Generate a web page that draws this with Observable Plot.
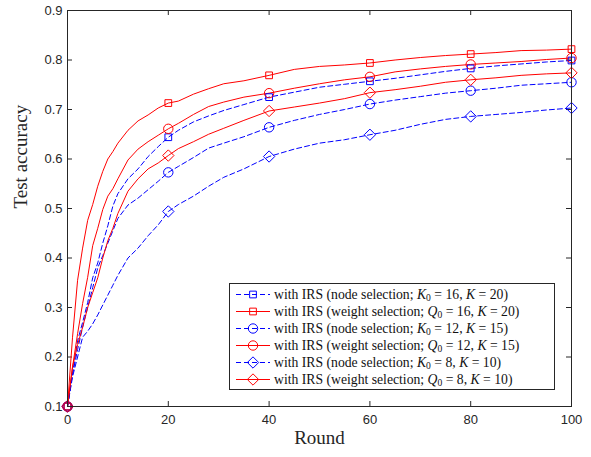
<!DOCTYPE html>
<html>
<head>
<meta charset="utf-8">
<script src="https://cdn.jsdelivr.net/npm/d3@7"></script>
<script src="https://cdn.jsdelivr.net/npm/@observablehq/plot@0.6"></script>
<style>
  html, body { margin: 0; padding: 0; background: #fff; }
  #wrap { position: relative; width: 591px; height: 457px; }
  #legend {
    position: absolute; left: 229px; top: 283px; width: 326px; height: 107px;
    border: 1px solid #262626; background: #fff; box-sizing: border-box;
    font-family: "Liberation Serif", "Times New Roman", serif; font-size: 13.7px; color: #111;
    padding-top: 2px;
  }
  .row { height: 17px; display: flex; align-items: center; white-space: nowrap; }
  .row svg { width: 40px; height: 17px; margin-left: 4px; margin-right: 0px; flex: none; }
  sub { font-size: 0.7em; vertical-align: -0.25em; line-height: 0; }
</style>
</head>
<body>
<div id="wrap"><div id="legend"></div></div>
<script>
// ---- data ----
const rounds = [0,1,2,3,4,5,6,7,8,9,10,12,14,16,18,20,22,25,28,31,35,40,45,50,55,60,65,70,75,80,85,90,95,100];
const markerRounds = [0,20,40,60,80,100];
const xTicks = [0,20,40,60,80,100];
const yTicks = [0.1,0.2,0.3,0.4,0.5,0.6,0.7,0.8,0.9];

const nodeK16 = [0.1,0.167,0.233,0.27,0.31,0.36,0.39,0.43,0.465,0.505,0.53,0.56,0.58,0.605,0.625,0.644,0.658,0.675,0.687,0.698,0.71,0.725,0.735,0.745,0.751,0.757,0.763,0.77,0.777,0.783,0.788,0.792,0.796,0.799];
const weightQ16 = [0.1,0.24,0.355,0.42,0.476,0.508,0.545,0.575,0.6,0.615,0.632,0.658,0.677,0.689,0.703,0.713,0.717,0.731,0.742,0.752,0.758,0.769,0.781,0.787,0.79,0.794,0.8,0.805,0.809,0.812,0.815,0.819,0.82,0.822];
const nodeK12 = [0.1,0.165,0.215,0.26,0.3,0.34,0.38,0.405,0.43,0.455,0.48,0.507,0.521,0.538,0.555,0.573,0.585,0.603,0.622,0.632,0.645,0.664,0.678,0.69,0.7,0.711,0.719,0.726,0.733,0.738,0.743,0.749,0.752,0.755];
const weightQ12 = [0.1,0.18,0.247,0.308,0.361,0.425,0.46,0.498,0.525,0.54,0.56,0.598,0.62,0.635,0.648,0.661,0.672,0.69,0.706,0.715,0.725,0.733,0.743,0.752,0.76,0.766,0.776,0.782,0.787,0.791,0.794,0.797,0.801,0.804];
const nodeK8 = [0.1,0.16,0.2,0.24,0.252,0.267,0.285,0.305,0.325,0.345,0.365,0.4,0.42,0.445,0.467,0.494,0.508,0.525,0.545,0.563,0.58,0.605,0.62,0.632,0.639,0.649,0.658,0.67,0.68,0.686,0.69,0.694,0.699,0.703];
const weightQ8 = [0.1,0.18,0.225,0.26,0.3,0.33,0.36,0.4,0.435,0.46,0.49,0.535,0.56,0.58,0.592,0.607,0.621,0.635,0.65,0.662,0.678,0.697,0.705,0.713,0.722,0.734,0.74,0.747,0.755,0.76,0.764,0.769,0.772,0.774];

const seriesLabels = [
  'with IRS (node selection; <i>K</i><sub>0</sub> = 16, <i>K</i> = 20)',
  'with IRS (weight selection; <i>Q</i><sub>0</sub> = 16, <i>K</i> = 20)',
  'with IRS (node selection; <i>K</i><sub>0</sub> = 12, <i>K</i> = 15)',
  'with IRS (weight selection; <i>Q</i><sub>0</sub> = 12, <i>K</i> = 15)',
  'with IRS (node selection; <i>K</i><sub>0</sub> = 8, <i>K</i> = 10)',
  'with IRS (weight selection; <i>Q</i><sub>0</sub> = 8, <i>K</i> = 10)'
];
const seriesValues = [nodeK16, weightQ16, nodeK12, weightQ12, nodeK8, weightQ8];
const seriesColors = ["#0000ff","#ff0000","#0000ff","#ff0000","#0000ff","#ff0000"];
const seriesDash = ["5,3", null, "5,3", null, "5,3", null];
const seriesSymbols = ["square","square","circle","circle","diamond2","diamond2"];
const symbolR = {square: 3.8, circle: 4.7, diamond2: 5.1};

// ---- chart ----
const W = 591, H = 457, mL = 67, mR = 20, mT = 10, mB = 51;
const innerW = W - mL - mR, innerH = H - mT - mB;
const tickLen = 5;
const txt = "#262626";

const marks = [];
seriesValues.forEach((vals, i) => {
  const pts = rounds.map((r, j) => ({r, v: vals[j]}));
  marks.push(Plot.line(pts, {x: "r", y: "v", stroke: seriesColors[i], strokeWidth: 1, strokeDasharray: seriesDash[i]}));
});
seriesValues.forEach((vals, i) => {
  const pts = rounds.map((r, j) => ({r, v: vals[j]})).filter(d => markerRounds.includes(d.r));
  marks.push(Plot.dot(pts, {x: "r", y: "v", stroke: seriesColors[i], fill: "none", strokeWidth: 1, symbol: seriesSymbols[i], r: symbolR[seriesSymbols[i]]}));
});

const chart = Plot.plot({
  width: W, height: H,
  marginLeft: mL, marginRight: mR, marginTop: mT, marginBottom: mB,
  x: {domain: [0, 100]},
  y: {domain: [0.1, 0.9]},
  style: {background: "#fff", overflow: "visible"},
  marks: [
    Plot.axisX(xTicks, {tickSize: 0, tickPadding: 8, fontSize: 13, fontFamily: "Liberation Sans, Arial, sans-serif", color: txt, label: null}),
    Plot.axisY(yTicks, {tickSize: 0, tickPadding: 5, fontSize: 13, fontFamily: "Liberation Sans, Arial, sans-serif", color: txt, label: null, tickFormat: d => d.toFixed(1)}),
    Plot.tickX(xTicks, {x: d => d, stroke: txt, insetTop: innerH - tickLen}),
    Plot.tickX(xTicks, {x: d => d, stroke: txt, insetBottom: innerH - tickLen}),
    Plot.tickY(yTicks, {y: d => d, stroke: txt, insetRight: innerW - tickLen}),
    Plot.tickY(yTicks, {y: d => d, stroke: txt, insetLeft: innerW - tickLen}),
    Plot.text(["Round"], {text: d => d, frameAnchor: "bottom", dy: 37, fontSize: 19, fontFamily: "Liberation Serif, Times New Roman, serif", fill: txt}),
    Plot.text(["Test accuracy"], {text: d => d, frameAnchor: "left", dx: -47, rotate: -90, fontSize: 19, fontFamily: "Liberation Serif, Times New Roman, serif", fill: txt}),
    ...marks,
    Plot.frame({stroke: txt, strokeWidth: 1})
  ]
});
document.getElementById("wrap").prepend(chart);

// ---- legend ----
const legend = document.getElementById("legend");
seriesLabels.forEach((lab, i) => {
  const row = document.createElement("div");
  row.className = "row";
  const sym = seriesSymbols[i];
  const path = d3.symbol(sym === "square" ? d3.symbolSquare : sym === "circle" ? d3.symbolCircle : d3.symbolDiamond2, Math.PI * symbolR[sym] ** 2)();
  row.innerHTML =
    `<svg viewBox="0 0 40 17"><line x1="2" x2="36" y1="8.5" y2="8.5" stroke="${seriesColors[i]}" stroke-width="1" ${seriesDash[i] ? `stroke-dasharray="${seriesDash[i]}"` : ""}/>` +
    `<path d="${path}" transform="translate(19,8.5)" fill="none" stroke="${seriesColors[i]}" stroke-width="1"/></svg>` +
    `<span>${lab}</span>`;
  legend.appendChild(row);
});
</script>
</body>
</html>
